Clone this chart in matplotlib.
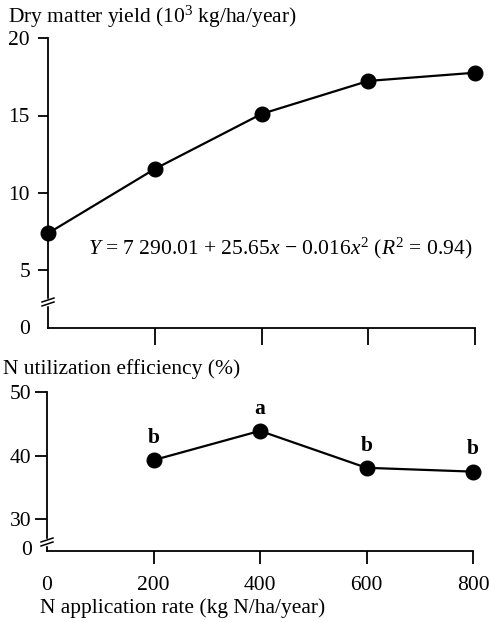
import matplotlib
matplotlib.use("Agg")
import matplotlib.pyplot as plt
from matplotlib.lines import Line2D

plt.rcParams['font.family'] = ['Liberation Serif', 'DejaVu Serif']
plt.rcParams['mathtext.fontset'] = 'custom'
plt.rcParams['mathtext.rm'] = 'Liberation Serif'
plt.rcParams['mathtext.it'] = 'Liberation Serif:italic'
plt.rcParams['mathtext.bf'] = 'Liberation Serif:bold'

# Data
n_rate = [0, 200, 400, 600, 800]
dm_yield = [7.4, 11.55, 15.1, 17.23, 17.76]
n_rate_eff = [200, 400, 600, 800]
n_eff = [39.3, 43.9, 38.1, 37.5]
eff_letters = ['b', 'a', 'b', 'b']
x_ticks = [0, 200, 400, 600, 800]
top_yticks = [5, 10, 15, 20]
bot_yticks = [30, 40, 50]

W, H = 491, 622
fig = plt.figure(figsize=(W / 100, H / 100), dpi=100)

def rect(l, r, t, b):
    return [l / W, 1 - b / H, (r - l) / W, (b - t) / H]

FS = 15.5
lw = 1.3
plw = 1.6
ms = 10.5

# Top panel
top_ymin = 20 - (328 - 38) / 15.5
ax1 = fig.add_axes(rect(48, 475, 38, 328))
ax1.plot(n_rate, dm_yield, color='black', lw=plw, marker='o', ms=ms, clip_on=False, zorder=3)
ax1.set_xlim(0, 800)
ax1.set_ylim(top_ymin, 20)
ax1.set_yticks([top_ymin + 0.05] + top_yticks)
ax1.set_yticklabels(['0'] + [str(v) for v in top_yticks])
ax1.yaxis.get_major_ticks()[0].tick1line.set_visible(False)
ax1.set_xticks(x_ticks)
ax1.set_xticklabels([])
ax1.xaxis.get_major_ticks()[0].tick1line.set_visible(False)
ax1.tick_params(axis='x', direction='out', length=12, width=lw)
ax1.tick_params(axis='y', direction='out', length=7, width=lw, labelsize=FS, pad=6)
for s in ['top', 'right']:
    ax1.spines[s].set_visible(False)
for s in ['left', 'bottom']:
    ax1.spines[s].set_linewidth(lw)
fig.text(88 / W, 1 - 248 / H,
         r'$Y$ = 7 290.01 + 25.65$x$ − 0.016$x^2$ ($R^2$ = 0.94)',
         fontsize=FS, ha='left', va='center')
fig.text(8 / W, 1 - 17 / H, r'Dry matter yield (10$^3$ kg/ha/year)',
         fontsize=FS, ha='left', va='center')

# Break marks
def brk(ypix, xpix):
    fig.add_artist(Line2D([xpix / W, xpix / W], [1 - (ypix + 2) / H, 1 - (ypix - 2) / H],
                          color='white', lw=2.5))
    for d in (-2, 2):
        x0, x1 = (xpix - 6) / W, (xpix + 6) / W
        y0, y1 = 1 - (ypix + d + 2) / H, 1 - (ypix + d - 2) / H
        fig.add_artist(Line2D([x0, x1], [y0, y1], color='black', lw=1.1))

brk(302, 48)

# Bottom panel
bot_ymin = 40 - (551 - 456) / 6.35
ax2 = fig.add_axes(rect(47, 473, 392, 551))
ax2.plot(n_rate_eff, n_eff, color='black', lw=plw, marker='o', ms=ms, clip_on=False, zorder=3)
for xv, yv, lab in zip(n_rate_eff, n_eff, eff_letters):
    ax2.annotate(lab, (xv, yv), xytext=(0, 16), textcoords='offset points',
                 ha='center', va='center', fontsize=FS, fontweight='bold')
ax2.set_xlim(0, 800)
ax2.set_ylim(bot_ymin, 50)
ax2.set_yticks([bot_ymin + 0.5] + bot_yticks)
ax2.set_yticklabels(['0'] + [str(v) for v in bot_yticks])
ax2.yaxis.get_major_ticks()[0].tick1line.set_visible(False)
ax2.set_xticks(x_ticks)
ax2.set_xticklabels([str(v) for v in x_ticks])
ax2.xaxis.get_major_ticks()[0].tick1line.set_visible(False)
ax2.tick_params(axis='x', direction='out', length=9, width=lw, labelsize=FS, pad=9)
ax2.tick_params(axis='y', direction='out', length=9, width=lw, labelsize=FS, pad=2)
for s in ['top', 'right']:
    ax2.spines[s].set_visible(False)
for s in ['left', 'bottom']:
    ax2.spines[s].set_linewidth(lw)
fig.text(3 / W, 1 - 369 / H, 'N utilization efficiency (%)', fontsize=FS, ha='left', va='center')
fig.text(40 / W, 1 - 608 / H, 'N application rate (kg N/ha/year)', fontsize=FS, ha='left', va='center')
brk(542, 47)

fig.savefig('out.png', dpi=100)
